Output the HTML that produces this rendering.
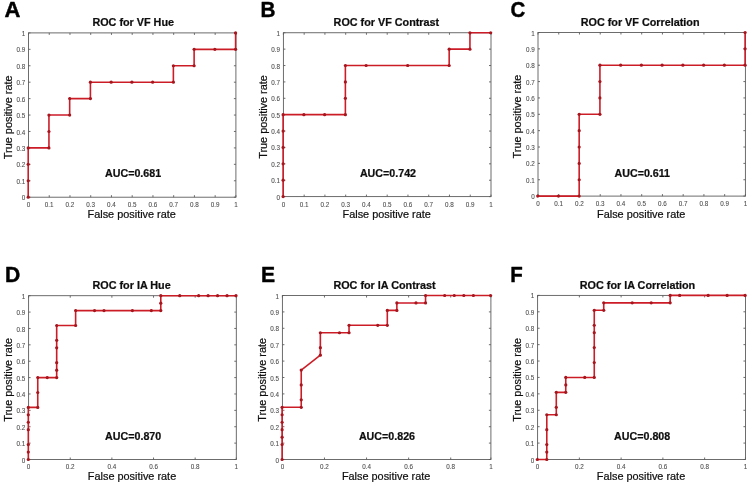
<!DOCTYPE html>
<html lang="en"><head><meta charset="utf-8"><title>ROC curves</title>
<style>
html,body{margin:0;padding:0;background:#fff;}
body{width:752px;height:487px;overflow:hidden;}
svg{display:block;will-change:transform;}
svg text{font-family:"Liberation Sans",sans-serif;}
.tk{font-size:6.3px;fill:#4c4c4c;stroke:#4c4c4c;stroke-width:0.08px;}
.ti{font-size:10.8px;font-weight:bold;fill:#0c0c0c;stroke:#111;stroke-width:0.22px;}
.lb{font-size:10.9px;fill:#0c0c0c;stroke:#0c0c0c;stroke-width:0.2px;}
.au{font-size:10.7px;font-weight:bold;fill:#0c0c0c;stroke:#111;stroke-width:0.22px;}
.lt{font-size:22.0px;font-weight:bold;fill:#000;stroke:#000;stroke-width:0.45px;stroke-linejoin:round;}
</style></head>
<body>
<svg width="752" height="487" viewBox="0 0 752 487">
<defs><filter id="soft" x="0" y="0" width="752" height="487" filterUnits="userSpaceOnUse"><feGaussianBlur stdDeviation="0.38"/></filter></defs>
<rect x="0" y="0" width="752" height="487" fill="#ffffff"/>
<g filter="url(#soft)">
<g>
<text class="lt" transform="translate(4.40 17) scale(1.00 1)">A</text>
<text class="ti" text-anchor="middle" x="133.2" y="26.0">ROC for VF Hue</text>
<rect x="28.50" y="32.90" width="207.40" height="164.30" fill="none" stroke="#5c5c5c" stroke-width="0.9"/>
<text class="tk" text-anchor="middle" x="28.50" y="207.00">0</text>
<text class="tk" text-anchor="middle" x="49.24" y="207.00">0.1</text>
<text class="tk" text-anchor="middle" x="69.98" y="207.00">0.2</text>
<text class="tk" text-anchor="middle" x="90.72" y="207.00">0.3</text>
<text class="tk" text-anchor="middle" x="111.46" y="207.00">0.4</text>
<text class="tk" text-anchor="middle" x="132.20" y="207.00">0.5</text>
<text class="tk" text-anchor="middle" x="152.94" y="207.00">0.6</text>
<text class="tk" text-anchor="middle" x="173.68" y="207.00">0.7</text>
<text class="tk" text-anchor="middle" x="194.42" y="207.00">0.8</text>
<text class="tk" text-anchor="middle" x="215.16" y="207.00">0.9</text>
<text class="tk" text-anchor="middle" x="235.90" y="207.00">1</text>
<text class="tk" text-anchor="end" x="25.20" y="200.00">0</text>
<text class="tk" text-anchor="end" x="25.20" y="184.00">0.1</text>
<text class="tk" text-anchor="end" x="25.20" y="167.00">0.2</text>
<text class="tk" text-anchor="end" x="25.20" y="151.00">0.3</text>
<text class="tk" text-anchor="end" x="25.20" y="135.00">0.4</text>
<text class="tk" text-anchor="end" x="25.20" y="118.00">0.5</text>
<text class="tk" text-anchor="end" x="25.20" y="102.00">0.6</text>
<text class="tk" text-anchor="end" x="25.20" y="85.00">0.7</text>
<text class="tk" text-anchor="end" x="25.20" y="69.00">0.8</text>
<text class="tk" text-anchor="end" x="25.20" y="52.00">0.9</text>
<text class="tk" text-anchor="end" x="25.20" y="36.00">1</text>
<path d="M28.50 197.20v-2.0M28.50 32.90v2.0M49.24 197.20v-2.0M49.24 32.90v2.0M69.98 197.20v-2.0M69.98 32.90v2.0M90.72 197.20v-2.0M90.72 32.90v2.0M111.46 197.20v-2.0M111.46 32.90v2.0M132.20 197.20v-2.0M132.20 32.90v2.0M152.94 197.20v-2.0M152.94 32.90v2.0M173.68 197.20v-2.0M173.68 32.90v2.0M194.42 197.20v-2.0M194.42 32.90v2.0M215.16 197.20v-2.0M215.16 32.90v2.0M235.90 197.20v-2.0M235.90 32.90v2.0M28.50 197.20h2.0M235.90 197.20h-2.0M28.50 180.77h2.0M235.90 180.77h-2.0M28.50 164.34h2.0M235.90 164.34h-2.0M28.50 147.91h2.0M235.90 147.91h-2.0M28.50 131.48h2.0M235.90 131.48h-2.0M28.50 115.05h2.0M235.90 115.05h-2.0M28.50 98.62h2.0M235.90 98.62h-2.0M28.50 82.19h2.0M235.90 82.19h-2.0M28.50 65.76h2.0M235.90 65.76h-2.0M28.50 49.33h2.0M235.90 49.33h-2.0M28.50 32.90h2.0M235.90 32.90h-2.0" stroke="#5c5c5c" stroke-width="0.9" fill="none"/>
<text class="lb" text-anchor="middle" x="131.7" y="218.0">False positive rate</text>
<text class="lb" text-anchor="middle" transform="translate(11.8 117.3) rotate(-90)">True positive rate</text>
<text class="au" x="105.0" y="177">AUC=0.681</text>
<polyline points="28.20,197.20 28.20,180.77 28.20,164.34 28.20,147.91 48.94,147.91 48.94,131.48 48.94,115.05 69.68,115.05 69.68,98.62 90.42,98.62 90.42,82.19 111.16,82.19 131.90,82.19 152.64,82.19 173.38,82.19 173.38,65.76 194.12,65.76 194.12,49.33 214.86,49.33 235.60,49.33 235.60,32.90" fill="none" stroke="#cc1e28" stroke-width="1.6" stroke-linejoin="miter"/>
<circle cx="28.20" cy="197.20" r="1.6" fill="#a6141e"/>
<circle cx="28.20" cy="180.77" r="1.6" fill="#a6141e"/>
<circle cx="28.20" cy="164.34" r="1.6" fill="#a6141e"/>
<circle cx="28.20" cy="147.91" r="1.6" fill="#a6141e"/>
<circle cx="48.94" cy="147.91" r="1.6" fill="#a6141e"/>
<circle cx="48.94" cy="131.48" r="1.6" fill="#a6141e"/>
<circle cx="48.94" cy="115.05" r="1.6" fill="#a6141e"/>
<circle cx="69.68" cy="115.05" r="1.6" fill="#a6141e"/>
<circle cx="69.68" cy="98.62" r="1.6" fill="#a6141e"/>
<circle cx="90.42" cy="98.62" r="1.6" fill="#a6141e"/>
<circle cx="90.42" cy="82.19" r="1.6" fill="#a6141e"/>
<circle cx="111.16" cy="82.19" r="1.6" fill="#a6141e"/>
<circle cx="131.90" cy="82.19" r="1.6" fill="#a6141e"/>
<circle cx="152.64" cy="82.19" r="1.6" fill="#a6141e"/>
<circle cx="173.38" cy="82.19" r="1.6" fill="#a6141e"/>
<circle cx="173.38" cy="65.76" r="1.6" fill="#a6141e"/>
<circle cx="194.12" cy="65.76" r="1.6" fill="#a6141e"/>
<circle cx="194.12" cy="49.33" r="1.6" fill="#a6141e"/>
<circle cx="214.86" cy="49.33" r="1.6" fill="#a6141e"/>
<circle cx="235.60" cy="49.33" r="1.6" fill="#a6141e"/>
<circle cx="235.60" cy="32.90" r="1.6" fill="#a6141e"/>
</g>
<g>
<text class="lt" transform="translate(260.39 17) scale(0.94 1)">B</text>
<text class="ti" text-anchor="middle" x="386.4" y="26.0">ROC for VF Contrast</text>
<rect x="283.40" y="32.75" width="207.60" height="163.85" fill="none" stroke="#5c5c5c" stroke-width="0.9"/>
<text class="tk" text-anchor="middle" x="283.40" y="207.00">0</text>
<text class="tk" text-anchor="middle" x="304.16" y="207.00">0.1</text>
<text class="tk" text-anchor="middle" x="324.92" y="207.00">0.2</text>
<text class="tk" text-anchor="middle" x="345.68" y="207.00">0.3</text>
<text class="tk" text-anchor="middle" x="366.44" y="207.00">0.4</text>
<text class="tk" text-anchor="middle" x="387.20" y="207.00">0.5</text>
<text class="tk" text-anchor="middle" x="407.96" y="207.00">0.6</text>
<text class="tk" text-anchor="middle" x="428.72" y="207.00">0.7</text>
<text class="tk" text-anchor="middle" x="449.48" y="207.00">0.8</text>
<text class="tk" text-anchor="middle" x="470.24" y="207.00">0.9</text>
<text class="tk" text-anchor="middle" x="491.00" y="207.00">1</text>
<text class="tk" text-anchor="end" x="280.10" y="200.00">0</text>
<text class="tk" text-anchor="end" x="280.10" y="183.00">0.1</text>
<text class="tk" text-anchor="end" x="280.10" y="167.00">0.2</text>
<text class="tk" text-anchor="end" x="280.10" y="150.00">0.3</text>
<text class="tk" text-anchor="end" x="280.10" y="134.00">0.4</text>
<text class="tk" text-anchor="end" x="280.10" y="118.00">0.5</text>
<text class="tk" text-anchor="end" x="280.10" y="101.00">0.6</text>
<text class="tk" text-anchor="end" x="280.10" y="85.00">0.7</text>
<text class="tk" text-anchor="end" x="280.10" y="69.00">0.8</text>
<text class="tk" text-anchor="end" x="280.10" y="52.00">0.9</text>
<text class="tk" text-anchor="end" x="280.10" y="36.00">1</text>
<path d="M283.40 196.60v-2.0M283.40 32.75v2.0M304.16 196.60v-2.0M304.16 32.75v2.0M324.92 196.60v-2.0M324.92 32.75v2.0M345.68 196.60v-2.0M345.68 32.75v2.0M366.44 196.60v-2.0M366.44 32.75v2.0M387.20 196.60v-2.0M387.20 32.75v2.0M407.96 196.60v-2.0M407.96 32.75v2.0M428.72 196.60v-2.0M428.72 32.75v2.0M449.48 196.60v-2.0M449.48 32.75v2.0M470.24 196.60v-2.0M470.24 32.75v2.0M491.00 196.60v-2.0M491.00 32.75v2.0M283.40 196.60h2.0M491.00 196.60h-2.0M283.40 180.22h2.0M491.00 180.22h-2.0M283.40 163.83h2.0M491.00 163.83h-2.0M283.40 147.44h2.0M491.00 147.44h-2.0M283.40 131.06h2.0M491.00 131.06h-2.0M283.40 114.67h2.0M491.00 114.67h-2.0M283.40 98.29h2.0M491.00 98.29h-2.0M283.40 81.91h2.0M491.00 81.91h-2.0M283.40 65.52h2.0M491.00 65.52h-2.0M283.40 49.13h2.0M491.00 49.13h-2.0M283.40 32.75h2.0M491.00 32.75h-2.0" stroke="#5c5c5c" stroke-width="0.9" fill="none"/>
<text class="lb" text-anchor="middle" x="386.7" y="218.0">False positive rate</text>
<text class="lb" text-anchor="middle" transform="translate(266.7 117.0) rotate(-90)">True positive rate</text>
<text class="au" x="359.9" y="177">AUC=0.742</text>
<polyline points="283.10,196.60 283.10,180.22 283.10,163.83 283.10,147.44 283.10,131.06 283.10,114.67 303.86,114.67 324.62,114.67 345.38,114.67 345.38,98.29 345.38,81.91 345.38,65.52 366.14,65.52 407.66,65.52 449.18,65.52 449.18,49.13 469.94,49.13 469.94,32.75 490.70,32.75" fill="none" stroke="#cc1e28" stroke-width="1.6" stroke-linejoin="miter"/>
<circle cx="283.10" cy="196.60" r="1.6" fill="#a6141e"/>
<circle cx="283.10" cy="180.22" r="1.6" fill="#a6141e"/>
<circle cx="283.10" cy="163.83" r="1.6" fill="#a6141e"/>
<circle cx="283.10" cy="147.44" r="1.6" fill="#a6141e"/>
<circle cx="283.10" cy="131.06" r="1.6" fill="#a6141e"/>
<circle cx="283.10" cy="114.67" r="1.6" fill="#a6141e"/>
<circle cx="303.86" cy="114.67" r="1.6" fill="#a6141e"/>
<circle cx="324.62" cy="114.67" r="1.6" fill="#a6141e"/>
<circle cx="345.38" cy="114.67" r="1.6" fill="#a6141e"/>
<circle cx="345.38" cy="98.29" r="1.6" fill="#a6141e"/>
<circle cx="345.38" cy="81.91" r="1.6" fill="#a6141e"/>
<circle cx="345.38" cy="65.52" r="1.6" fill="#a6141e"/>
<circle cx="366.14" cy="65.52" r="1.6" fill="#a6141e"/>
<circle cx="407.66" cy="65.52" r="1.6" fill="#a6141e"/>
<circle cx="449.18" cy="65.52" r="1.6" fill="#a6141e"/>
<circle cx="449.18" cy="49.13" r="1.6" fill="#a6141e"/>
<circle cx="469.94" cy="49.13" r="1.6" fill="#a6141e"/>
<circle cx="469.94" cy="32.75" r="1.6" fill="#a6141e"/>
<circle cx="490.70" cy="32.75" r="1.6" fill="#a6141e"/>
</g>
<g>
<text class="lt" transform="translate(510.55 17) scale(0.93 1)">C</text>
<text class="ti" text-anchor="middle" x="640.1" y="26.0">ROC for VF Correlation</text>
<rect x="538.00" y="32.50" width="207.40" height="163.60" fill="none" stroke="#5c5c5c" stroke-width="0.9"/>
<text class="tk" text-anchor="middle" x="538.00" y="206.00">0</text>
<text class="tk" text-anchor="middle" x="558.74" y="206.00">0.1</text>
<text class="tk" text-anchor="middle" x="579.48" y="206.00">0.2</text>
<text class="tk" text-anchor="middle" x="600.22" y="206.00">0.3</text>
<text class="tk" text-anchor="middle" x="620.96" y="206.00">0.4</text>
<text class="tk" text-anchor="middle" x="641.70" y="206.00">0.5</text>
<text class="tk" text-anchor="middle" x="662.44" y="206.00">0.6</text>
<text class="tk" text-anchor="middle" x="683.18" y="206.00">0.7</text>
<text class="tk" text-anchor="middle" x="703.92" y="206.00">0.8</text>
<text class="tk" text-anchor="middle" x="724.66" y="206.00">0.9</text>
<text class="tk" text-anchor="middle" x="745.40" y="206.00">1</text>
<text class="tk" text-anchor="end" x="534.70" y="199.00">0</text>
<text class="tk" text-anchor="end" x="534.70" y="183.00">0.1</text>
<text class="tk" text-anchor="end" x="534.70" y="166.00">0.2</text>
<text class="tk" text-anchor="end" x="534.70" y="150.00">0.3</text>
<text class="tk" text-anchor="end" x="534.70" y="134.00">0.4</text>
<text class="tk" text-anchor="end" x="534.70" y="117.00">0.5</text>
<text class="tk" text-anchor="end" x="534.70" y="101.00">0.6</text>
<text class="tk" text-anchor="end" x="534.70" y="85.00">0.7</text>
<text class="tk" text-anchor="end" x="534.70" y="68.00">0.8</text>
<text class="tk" text-anchor="end" x="534.70" y="52.00">0.9</text>
<text class="tk" text-anchor="end" x="534.70" y="36.00">1</text>
<path d="M538.00 196.10v-2.0M538.00 32.50v2.0M558.74 196.10v-2.0M558.74 32.50v2.0M579.48 196.10v-2.0M579.48 32.50v2.0M600.22 196.10v-2.0M600.22 32.50v2.0M620.96 196.10v-2.0M620.96 32.50v2.0M641.70 196.10v-2.0M641.70 32.50v2.0M662.44 196.10v-2.0M662.44 32.50v2.0M683.18 196.10v-2.0M683.18 32.50v2.0M703.92 196.10v-2.0M703.92 32.50v2.0M724.66 196.10v-2.0M724.66 32.50v2.0M745.40 196.10v-2.0M745.40 32.50v2.0M538.00 196.10h2.0M745.40 196.10h-2.0M538.00 179.74h2.0M745.40 179.74h-2.0M538.00 163.38h2.0M745.40 163.38h-2.0M538.00 147.02h2.0M745.40 147.02h-2.0M538.00 130.66h2.0M745.40 130.66h-2.0M538.00 114.30h2.0M745.40 114.30h-2.0M538.00 97.94h2.0M745.40 97.94h-2.0M538.00 81.58h2.0M745.40 81.58h-2.0M538.00 65.22h2.0M745.40 65.22h-2.0M538.00 48.86h2.0M745.40 48.86h-2.0M538.00 32.50h2.0M745.40 32.50h-2.0" stroke="#5c5c5c" stroke-width="0.9" fill="none"/>
<text class="lb" text-anchor="middle" x="641.2" y="218.0">False positive rate</text>
<text class="lb" text-anchor="middle" transform="translate(521.3 116.6) rotate(-90)">True positive rate</text>
<text class="au" x="614.5" y="177">AUC=0.611</text>
<polyline points="537.70,196.10 558.44,196.10 579.18,196.10 579.18,179.74 579.18,163.38 579.18,147.02 579.18,130.66 579.18,114.30 599.92,114.30 599.92,97.94 599.92,81.58 599.92,65.22 620.66,65.22 641.40,65.22 662.14,65.22 682.88,65.22 703.62,65.22 724.36,65.22 745.10,65.22 745.10,48.86 745.10,32.50" fill="none" stroke="#cc1e28" stroke-width="1.6" stroke-linejoin="miter"/>
<circle cx="537.70" cy="196.10" r="1.6" fill="#a6141e"/>
<circle cx="558.44" cy="196.10" r="1.6" fill="#a6141e"/>
<circle cx="579.18" cy="196.10" r="1.6" fill="#a6141e"/>
<circle cx="579.18" cy="179.74" r="1.6" fill="#a6141e"/>
<circle cx="579.18" cy="163.38" r="1.6" fill="#a6141e"/>
<circle cx="579.18" cy="147.02" r="1.6" fill="#a6141e"/>
<circle cx="579.18" cy="130.66" r="1.6" fill="#a6141e"/>
<circle cx="579.18" cy="114.30" r="1.6" fill="#a6141e"/>
<circle cx="599.92" cy="114.30" r="1.6" fill="#a6141e"/>
<circle cx="599.92" cy="97.94" r="1.6" fill="#a6141e"/>
<circle cx="599.92" cy="81.58" r="1.6" fill="#a6141e"/>
<circle cx="599.92" cy="65.22" r="1.6" fill="#a6141e"/>
<circle cx="620.66" cy="65.22" r="1.6" fill="#a6141e"/>
<circle cx="641.40" cy="65.22" r="1.6" fill="#a6141e"/>
<circle cx="662.14" cy="65.22" r="1.6" fill="#a6141e"/>
<circle cx="682.88" cy="65.22" r="1.6" fill="#a6141e"/>
<circle cx="703.62" cy="65.22" r="1.6" fill="#a6141e"/>
<circle cx="724.36" cy="65.22" r="1.6" fill="#a6141e"/>
<circle cx="745.10" cy="65.22" r="1.6" fill="#a6141e"/>
<circle cx="745.10" cy="48.86" r="1.6" fill="#a6141e"/>
<circle cx="745.10" cy="32.50" r="1.6" fill="#a6141e"/>
</g>
<g>
<text class="lt" transform="translate(5.05 282) scale(0.96 1)">D</text>
<text class="ti" text-anchor="middle" x="131.6" y="289.0">ROC for IA Hue</text>
<rect x="28.60" y="295.70" width="207.70" height="163.80" fill="none" stroke="#5c5c5c" stroke-width="0.9"/>
<text class="tk" text-anchor="middle" x="28.60" y="469.00">0</text>
<text class="tk" text-anchor="middle" x="70.24" y="469.00">0.2</text>
<text class="tk" text-anchor="middle" x="111.88" y="469.00">0.4</text>
<text class="tk" text-anchor="middle" x="153.52" y="469.00">0.6</text>
<text class="tk" text-anchor="middle" x="195.16" y="469.00">0.8</text>
<text class="tk" text-anchor="middle" x="236.30" y="469.00">1</text>
<text class="tk" text-anchor="end" x="25.30" y="463.00">0</text>
<text class="tk" text-anchor="end" x="25.30" y="446.00">0.1</text>
<text class="tk" text-anchor="end" x="25.30" y="430.00">0.2</text>
<text class="tk" text-anchor="end" x="25.30" y="413.00">0.3</text>
<text class="tk" text-anchor="end" x="25.30" y="397.00">0.4</text>
<text class="tk" text-anchor="end" x="25.30" y="381.00">0.5</text>
<text class="tk" text-anchor="end" x="25.30" y="364.00">0.6</text>
<text class="tk" text-anchor="end" x="25.30" y="348.00">0.7</text>
<text class="tk" text-anchor="end" x="25.30" y="332.00">0.8</text>
<text class="tk" text-anchor="end" x="25.30" y="315.00">0.9</text>
<text class="tk" text-anchor="end" x="25.30" y="299.00">1</text>
<path d="M28.60 459.50v-2.0M28.60 295.70v2.0M70.24 459.50v-2.0M70.24 295.70v2.0M111.88 459.50v-2.0M111.88 295.70v2.0M153.52 459.50v-2.0M153.52 295.70v2.0M195.16 459.50v-2.0M195.16 295.70v2.0M236.30 459.50v-2.0M236.30 295.70v2.0M28.60 459.50h2.0M236.30 459.50h-2.0M28.60 443.12h2.0M236.30 443.12h-2.0M28.60 426.74h2.0M236.30 426.74h-2.0M28.60 410.36h2.0M236.30 410.36h-2.0M28.60 393.98h2.0M236.30 393.98h-2.0M28.60 377.60h2.0M236.30 377.60h-2.0M28.60 361.22h2.0M236.30 361.22h-2.0M28.60 344.84h2.0M236.30 344.84h-2.0M28.60 328.46h2.0M236.30 328.46h-2.0M28.60 312.08h2.0M236.30 312.08h-2.0M28.60 295.70h2.0M236.30 295.70h-2.0" stroke="#5c5c5c" stroke-width="0.9" fill="none"/>
<text class="lb" text-anchor="middle" x="132.0" y="480.0">False positive rate</text>
<text class="lb" text-anchor="middle" transform="translate(11.9 379.9) rotate(-90)">True positive rate</text>
<text class="au" x="105.1" y="440">AUC=0.870</text>
<polyline points="28.30,459.50 28.30,452.05 28.30,444.61 28.30,429.72 28.30,422.27 28.30,414.83 28.30,407.38 37.76,407.38 37.76,392.49 37.76,377.60 47.23,377.60 56.69,377.60 56.69,370.15 56.69,362.71 56.69,347.82 56.69,340.37 56.69,325.48 75.62,325.48 75.62,310.59 94.55,310.59 104.01,310.59 132.40,310.59 151.33,310.59 160.79,310.59 160.79,303.15 160.79,295.70 179.72,295.70 198.65,295.70 208.11,295.70 217.57,295.70 227.04,295.70 236.00,295.70" fill="none" stroke="#cc1e28" stroke-width="1.6" stroke-linejoin="miter"/>
<circle cx="28.30" cy="459.50" r="1.6" fill="#a6141e"/>
<circle cx="28.30" cy="452.05" r="1.6" fill="#a6141e"/>
<circle cx="28.30" cy="444.61" r="1.6" fill="#a6141e"/>
<circle cx="28.30" cy="429.72" r="1.6" fill="#a6141e"/>
<circle cx="28.30" cy="422.27" r="1.6" fill="#a6141e"/>
<circle cx="28.30" cy="414.83" r="1.6" fill="#a6141e"/>
<circle cx="28.30" cy="407.38" r="1.6" fill="#a6141e"/>
<circle cx="37.76" cy="407.38" r="1.6" fill="#a6141e"/>
<circle cx="37.76" cy="392.49" r="1.6" fill="#a6141e"/>
<circle cx="37.76" cy="377.60" r="1.6" fill="#a6141e"/>
<circle cx="47.23" cy="377.60" r="1.6" fill="#a6141e"/>
<circle cx="56.69" cy="377.60" r="1.6" fill="#a6141e"/>
<circle cx="56.69" cy="370.15" r="1.6" fill="#a6141e"/>
<circle cx="56.69" cy="362.71" r="1.6" fill="#a6141e"/>
<circle cx="56.69" cy="347.82" r="1.6" fill="#a6141e"/>
<circle cx="56.69" cy="340.37" r="1.6" fill="#a6141e"/>
<circle cx="56.69" cy="325.48" r="1.6" fill="#a6141e"/>
<circle cx="75.62" cy="325.48" r="1.6" fill="#a6141e"/>
<circle cx="75.62" cy="310.59" r="1.6" fill="#a6141e"/>
<circle cx="94.55" cy="310.59" r="1.6" fill="#a6141e"/>
<circle cx="104.01" cy="310.59" r="1.6" fill="#a6141e"/>
<circle cx="132.40" cy="310.59" r="1.6" fill="#a6141e"/>
<circle cx="151.33" cy="310.59" r="1.6" fill="#a6141e"/>
<circle cx="160.79" cy="310.59" r="1.6" fill="#a6141e"/>
<circle cx="160.79" cy="303.15" r="1.6" fill="#a6141e"/>
<circle cx="160.79" cy="295.70" r="1.6" fill="#a6141e"/>
<circle cx="179.72" cy="295.70" r="1.6" fill="#a6141e"/>
<circle cx="198.65" cy="295.70" r="1.6" fill="#a6141e"/>
<circle cx="208.11" cy="295.70" r="1.6" fill="#a6141e"/>
<circle cx="217.57" cy="295.70" r="1.6" fill="#a6141e"/>
<circle cx="227.04" cy="295.70" r="1.6" fill="#a6141e"/>
<circle cx="236.00" cy="295.70" r="1.6" fill="#a6141e"/>
</g>
<g>
<text class="lt" transform="translate(261.00 282) scale(0.96 1)">E</text>
<text class="ti" text-anchor="middle" x="384.5" y="289.0">ROC for IA Contrast</text>
<rect x="282.40" y="295.50" width="208.50" height="164.00" fill="none" stroke="#5c5c5c" stroke-width="0.9"/>
<text class="tk" text-anchor="middle" x="282.40" y="469.00">0</text>
<text class="tk" text-anchor="middle" x="324.48" y="469.00">0.2</text>
<text class="tk" text-anchor="middle" x="366.56" y="469.00">0.4</text>
<text class="tk" text-anchor="middle" x="408.64" y="469.00">0.6</text>
<text class="tk" text-anchor="middle" x="450.72" y="469.00">0.8</text>
<text class="tk" text-anchor="middle" x="490.90" y="469.00">1</text>
<text class="tk" text-anchor="end" x="279.10" y="463.00">0</text>
<text class="tk" text-anchor="end" x="279.10" y="446.00">0.1</text>
<text class="tk" text-anchor="end" x="279.10" y="430.00">0.2</text>
<text class="tk" text-anchor="end" x="279.10" y="413.00">0.3</text>
<text class="tk" text-anchor="end" x="279.10" y="397.00">0.4</text>
<text class="tk" text-anchor="end" x="279.10" y="381.00">0.5</text>
<text class="tk" text-anchor="end" x="279.10" y="364.00">0.6</text>
<text class="tk" text-anchor="end" x="279.10" y="348.00">0.7</text>
<text class="tk" text-anchor="end" x="279.10" y="331.00">0.8</text>
<text class="tk" text-anchor="end" x="279.10" y="315.00">0.9</text>
<text class="tk" text-anchor="end" x="279.10" y="299.00">1</text>
<path d="M282.40 459.50v-2.0M282.40 295.50v2.0M324.48 459.50v-2.0M324.48 295.50v2.0M366.56 459.50v-2.0M366.56 295.50v2.0M408.64 459.50v-2.0M408.64 295.50v2.0M450.72 459.50v-2.0M450.72 295.50v2.0M490.90 459.50v-2.0M490.90 295.50v2.0M282.40 459.50h2.0M490.90 459.50h-2.0M282.40 443.10h2.0M490.90 443.10h-2.0M282.40 426.70h2.0M490.90 426.70h-2.0M282.40 410.30h2.0M490.90 410.30h-2.0M282.40 393.90h2.0M490.90 393.90h-2.0M282.40 377.50h2.0M490.90 377.50h-2.0M282.40 361.10h2.0M490.90 361.10h-2.0M282.40 344.70h2.0M490.90 344.70h-2.0M282.40 328.30h2.0M490.90 328.30h-2.0M282.40 311.90h2.0M490.90 311.90h-2.0M282.40 295.50h2.0M490.90 295.50h-2.0" stroke="#5c5c5c" stroke-width="0.9" fill="none"/>
<text class="lb" text-anchor="middle" x="386.1" y="480.0">False positive rate</text>
<text class="lb" text-anchor="middle" transform="translate(265.7 379.8) rotate(-90)">True positive rate</text>
<text class="au" x="358.9" y="440">AUC=0.826</text>
<polyline points="282.10,459.50 282.10,444.59 282.10,437.14 282.10,429.68 282.10,422.23 282.10,414.77 282.10,407.32 301.23,407.32 301.23,399.86 301.23,384.95 301.23,370.05 320.35,355.14 320.35,347.68 320.35,332.77 339.48,332.77 349.05,332.77 349.05,325.32 377.74,325.32 387.30,325.32 387.30,310.41 396.86,310.41 396.86,302.95 415.99,302.95 425.55,302.95 425.55,295.50 444.68,295.50 454.25,295.50 463.81,295.50 473.37,295.50 490.60,295.50" fill="none" stroke="#cc1e28" stroke-width="1.6" stroke-linejoin="miter"/>
<circle cx="282.10" cy="459.50" r="1.6" fill="#a6141e"/>
<circle cx="282.10" cy="444.59" r="1.6" fill="#a6141e"/>
<circle cx="282.10" cy="437.14" r="1.6" fill="#a6141e"/>
<circle cx="282.10" cy="429.68" r="1.6" fill="#a6141e"/>
<circle cx="282.10" cy="422.23" r="1.6" fill="#a6141e"/>
<circle cx="282.10" cy="414.77" r="1.6" fill="#a6141e"/>
<circle cx="282.10" cy="407.32" r="1.6" fill="#a6141e"/>
<circle cx="301.23" cy="407.32" r="1.6" fill="#a6141e"/>
<circle cx="301.23" cy="399.86" r="1.6" fill="#a6141e"/>
<circle cx="301.23" cy="384.95" r="1.6" fill="#a6141e"/>
<circle cx="301.23" cy="370.05" r="1.6" fill="#a6141e"/>
<circle cx="320.35" cy="355.14" r="1.6" fill="#a6141e"/>
<circle cx="320.35" cy="347.68" r="1.6" fill="#a6141e"/>
<circle cx="320.35" cy="332.77" r="1.6" fill="#a6141e"/>
<circle cx="339.48" cy="332.77" r="1.6" fill="#a6141e"/>
<circle cx="349.05" cy="332.77" r="1.6" fill="#a6141e"/>
<circle cx="349.05" cy="325.32" r="1.6" fill="#a6141e"/>
<circle cx="377.74" cy="325.32" r="1.6" fill="#a6141e"/>
<circle cx="387.30" cy="325.32" r="1.6" fill="#a6141e"/>
<circle cx="387.30" cy="310.41" r="1.6" fill="#a6141e"/>
<circle cx="396.86" cy="310.41" r="1.6" fill="#a6141e"/>
<circle cx="396.86" cy="302.95" r="1.6" fill="#a6141e"/>
<circle cx="415.99" cy="302.95" r="1.6" fill="#a6141e"/>
<circle cx="425.55" cy="302.95" r="1.6" fill="#a6141e"/>
<circle cx="425.55" cy="295.50" r="1.6" fill="#a6141e"/>
<circle cx="444.68" cy="295.50" r="1.6" fill="#a6141e"/>
<circle cx="454.25" cy="295.50" r="1.6" fill="#a6141e"/>
<circle cx="463.81" cy="295.50" r="1.6" fill="#a6141e"/>
<circle cx="473.37" cy="295.50" r="1.6" fill="#a6141e"/>
<circle cx="490.60" cy="295.50" r="1.6" fill="#a6141e"/>
</g>
<g>
<text class="lt" transform="translate(510.21 282) scale(0.93 1)">F</text>
<text class="ti" text-anchor="middle" x="637.5" y="289.0">ROC for IA Correlation</text>
<rect x="537.60" y="295.40" width="207.85" height="164.10" fill="none" stroke="#5c5c5c" stroke-width="0.9"/>
<text class="tk" text-anchor="middle" x="537.60" y="469.00">0</text>
<text class="tk" text-anchor="middle" x="579.36" y="469.00">0.2</text>
<text class="tk" text-anchor="middle" x="621.12" y="469.00">0.4</text>
<text class="tk" text-anchor="middle" x="662.88" y="469.00">0.6</text>
<text class="tk" text-anchor="middle" x="704.64" y="469.00">0.8</text>
<text class="tk" text-anchor="middle" x="745.45" y="469.00">1</text>
<text class="tk" text-anchor="end" x="534.30" y="463.00">0</text>
<text class="tk" text-anchor="end" x="534.30" y="446.00">0.1</text>
<text class="tk" text-anchor="end" x="534.30" y="430.00">0.2</text>
<text class="tk" text-anchor="end" x="534.30" y="413.00">0.3</text>
<text class="tk" text-anchor="end" x="534.30" y="397.00">0.4</text>
<text class="tk" text-anchor="end" x="534.30" y="380.00">0.5</text>
<text class="tk" text-anchor="end" x="534.30" y="364.00">0.6</text>
<text class="tk" text-anchor="end" x="534.30" y="348.00">0.7</text>
<text class="tk" text-anchor="end" x="534.30" y="331.00">0.8</text>
<text class="tk" text-anchor="end" x="534.30" y="315.00">0.9</text>
<text class="tk" text-anchor="end" x="534.30" y="298.00">1</text>
<path d="M537.60 459.50v-2.0M537.60 295.40v2.0M579.36 459.50v-2.0M579.36 295.40v2.0M621.12 459.50v-2.0M621.12 295.40v2.0M662.88 459.50v-2.0M662.88 295.40v2.0M704.64 459.50v-2.0M704.64 295.40v2.0M745.45 459.50v-2.0M745.45 295.40v2.0M537.60 459.50h2.0M745.45 459.50h-2.0M537.60 443.09h2.0M745.45 443.09h-2.0M537.60 426.68h2.0M745.45 426.68h-2.0M537.60 410.27h2.0M745.45 410.27h-2.0M537.60 393.86h2.0M745.45 393.86h-2.0M537.60 377.45h2.0M745.45 377.45h-2.0M537.60 361.04h2.0M745.45 361.04h-2.0M537.60 344.63h2.0M745.45 344.63h-2.0M537.60 328.22h2.0M745.45 328.22h-2.0M537.60 311.81h2.0M745.45 311.81h-2.0M537.60 295.40h2.0M745.45 295.40h-2.0" stroke="#5c5c5c" stroke-width="0.9" fill="none"/>
<text class="lb" text-anchor="middle" x="641.0" y="480.0">False positive rate</text>
<text class="lb" text-anchor="middle" transform="translate(520.9 379.8) rotate(-90)">True positive rate</text>
<text class="au" x="614.1" y="440">AUC=0.808</text>
<polyline points="537.30,459.50 546.79,459.50 546.79,452.04 546.79,444.58 546.79,429.66 546.79,414.75 556.28,414.75 556.28,407.29 556.28,392.37 565.77,392.37 565.77,384.91 565.77,377.45 584.75,377.45 594.25,377.45 594.25,362.53 594.25,347.61 594.25,332.70 594.25,325.24 594.25,310.32 603.74,310.32 603.74,302.86 632.21,302.86 651.19,302.86 670.17,302.86 670.17,295.40 679.66,295.40 708.14,295.40 727.12,295.40 745.15,295.40" fill="none" stroke="#cc1e28" stroke-width="1.6" stroke-linejoin="miter"/>
<circle cx="537.30" cy="459.50" r="1.6" fill="#a6141e"/>
<circle cx="546.79" cy="459.50" r="1.6" fill="#a6141e"/>
<circle cx="546.79" cy="452.04" r="1.6" fill="#a6141e"/>
<circle cx="546.79" cy="444.58" r="1.6" fill="#a6141e"/>
<circle cx="546.79" cy="429.66" r="1.6" fill="#a6141e"/>
<circle cx="546.79" cy="414.75" r="1.6" fill="#a6141e"/>
<circle cx="556.28" cy="414.75" r="1.6" fill="#a6141e"/>
<circle cx="556.28" cy="407.29" r="1.6" fill="#a6141e"/>
<circle cx="556.28" cy="392.37" r="1.6" fill="#a6141e"/>
<circle cx="565.77" cy="392.37" r="1.6" fill="#a6141e"/>
<circle cx="565.77" cy="384.91" r="1.6" fill="#a6141e"/>
<circle cx="565.77" cy="377.45" r="1.6" fill="#a6141e"/>
<circle cx="584.75" cy="377.45" r="1.6" fill="#a6141e"/>
<circle cx="594.25" cy="377.45" r="1.6" fill="#a6141e"/>
<circle cx="594.25" cy="362.53" r="1.6" fill="#a6141e"/>
<circle cx="594.25" cy="347.61" r="1.6" fill="#a6141e"/>
<circle cx="594.25" cy="332.70" r="1.6" fill="#a6141e"/>
<circle cx="594.25" cy="325.24" r="1.6" fill="#a6141e"/>
<circle cx="594.25" cy="310.32" r="1.6" fill="#a6141e"/>
<circle cx="603.74" cy="310.32" r="1.6" fill="#a6141e"/>
<circle cx="603.74" cy="302.86" r="1.6" fill="#a6141e"/>
<circle cx="632.21" cy="302.86" r="1.6" fill="#a6141e"/>
<circle cx="651.19" cy="302.86" r="1.6" fill="#a6141e"/>
<circle cx="670.17" cy="302.86" r="1.6" fill="#a6141e"/>
<circle cx="670.17" cy="295.40" r="1.6" fill="#a6141e"/>
<circle cx="679.66" cy="295.40" r="1.6" fill="#a6141e"/>
<circle cx="708.14" cy="295.40" r="1.6" fill="#a6141e"/>
<circle cx="727.12" cy="295.40" r="1.6" fill="#a6141e"/>
<circle cx="745.15" cy="295.40" r="1.6" fill="#a6141e"/>
</g>
</g>
</svg>
</body></html>
